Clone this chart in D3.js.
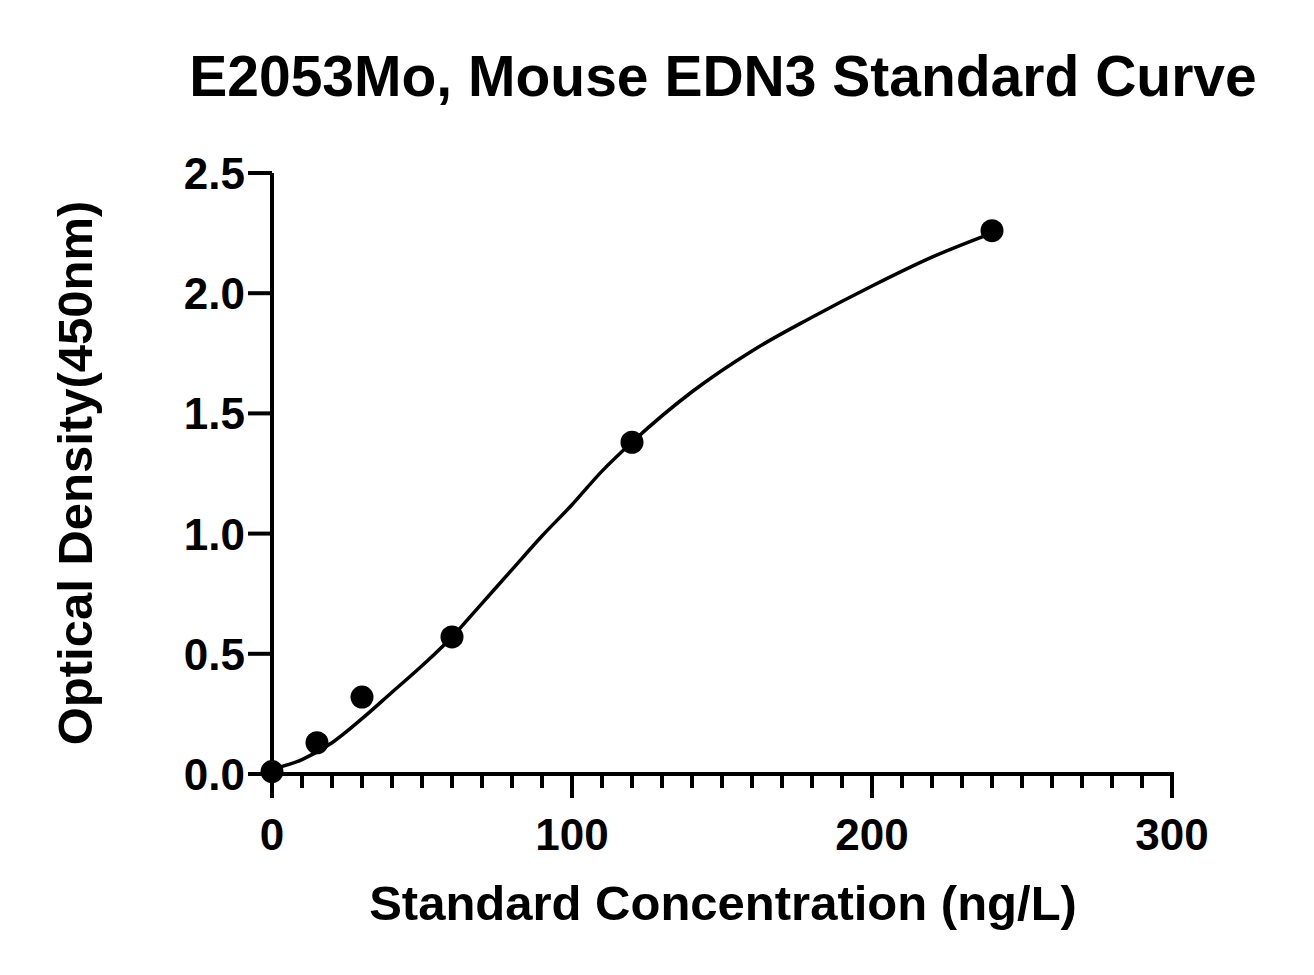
<!DOCTYPE html><html><head><script src="https://cdn.jsdelivr.net/npm/d3@7"></script>
<style>body{margin:0;background:#fff}text{font-family:Arial,"Liberation Sans",sans-serif;font-weight:bold;fill:#000}</style></head><body>
<script>
const conc=[0,15,30,60,120,240];
const od=[0.01,0.13,0.32,0.57,1.38,2.26];
const curveX=[0,10,20,30,40,50,60,70,80,90,100,110,120,140,160,180,200,220,240];
const curveY=[0.02,0.06,0.13,0.23,0.34,0.45,0.57,0.71,0.85,0.99,1.12,1.26,1.38,1.59,1.76,1.90,2.03,2.15,2.25];
const xTicks=[0,100,200,300];
const yTicks=[0,0.5,1,1.5,2,2.5];
const W=1314,H=975;
const svg=d3.select("body").append("svg").attr("width",W).attr("height",H);
const x=d3.scaleLinear().domain([0,300]).range([272,1172]);
const y=d3.scaleLinear().domain([0,2.5]).range([774,173]);
svg.append("text").attr("x",723).attr("y",96).attr("text-anchor","middle").style("font-size","57px").text("E2053Mo, Mouse EDN3 Standard Curve");
const xa=svg.append("g").attr("transform","translate(0,774)");
xa.append("line").attr("x1",x(0)).attr("x2",x(300)+2).attr("stroke","#000").attr("stroke-width",4);
d3.range(0,301,10).forEach(v=>{const maj=v%100===0;xa.append("line").attr("x1",x(v)).attr("x2",x(v)).attr("y1",0).attr("y2",maj?24:14).attr("stroke","#000").attr("stroke-width",4);});
xTicks.forEach(v=>xa.append("text").attr("x",x(v)).attr("y",76).attr("text-anchor","middle").style("font-size","44px").text(v));
const ya=svg.append("g").attr("transform","translate(272,0)");
ya.append("line").attr("y1",y(0)+2).attr("y2",y(2.5)).attr("stroke","#000").attr("stroke-width",4);
yTicks.forEach(v=>{ya.append("line").attr("x1",-24).attr("x2",0).attr("y1",y(v)).attr("y2",y(v)).attr("stroke","#000").attr("stroke-width",4);
ya.append("text").attr("x",-27).attr("y",y(v)+16).attr("text-anchor","end").style("font-size","44px").text(d3.format(".1f")(v));});
svg.append("text").attr("x",723).attr("y",920).attr("text-anchor","middle").style("font-size","49px").text("Standard Concentration (ng/L)");
svg.append("text").attr("transform","translate(92,473) rotate(-90)").attr("text-anchor","middle").style("font-size","49px").text("Optical Density(450nm)");
svg.append("path").datum(curveX.map((c,i)=>[c,curveY[i]])).attr("fill","none").attr("stroke","#000").attr("stroke-width",3.5)
.attr("d",d3.line().x(d=>x(d[0])).y(d=>y(d[1])).curve(d3.curveMonotoneX));
svg.selectAll("circle").data(conc).enter().append("circle").attr("cx",d=>x(d)).attr("cy",(d,i)=>y(od[i])).attr("r",11.5).attr("fill","#000");
</script></body></html>
